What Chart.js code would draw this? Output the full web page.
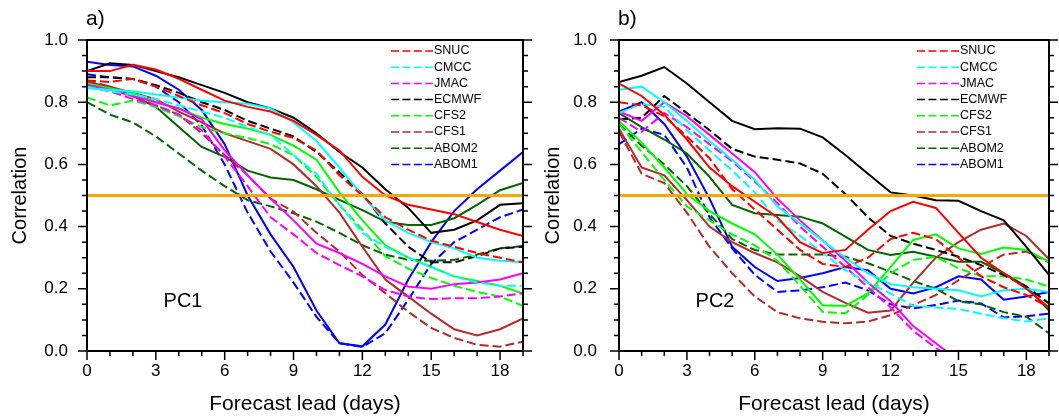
<!DOCTYPE html>
<html>
<head>
<meta charset="utf-8">
<script src="https://cdn.jsdelivr.net/npm/chart.js@4.4.0/dist/chart.umd.min.js"></script>
<style>
  body { margin: 0; background: #fff; }
  #wrap { position: relative; width: 1059px; height: 419px; }
  canvas { position: absolute; top: 0; }
  #pc1 { left: 0; }
  #pc2 { left: 540px; }
</style>
</head>
<body>
<div id="wrap">
  <canvas id="pc1" width="540" height="419"></canvas>
  <canvas id="pc2" width="519" height="419"></canvas>
</div>
<script>
// forecast lead in days
const days = [0,1,2,3,4,5,6,7,8,9,10,11,12,13,14,15,16,17,18,19];
const models = ['SNUC','CMCC','JMAC','ECMWF','CFS2','CFS1','ABOM2','ABOM1'];
const REF_LEVEL = 0.5;

// PC1 - solid lines
const pc1SnucSolid  = [0.90,0.90,0.92,0.905,0.875,0.84,0.805,0.785,0.77,0.74,0.695,0.645,0.56,0.50,0.47,0.455,0.44,0.415,0.39,0.37];
const pc1CmccSolid  = [0.845,0.84,0.835,0.825,0.815,0.805,0.80,0.795,0.78,0.735,0.675,0.59,0.50,0.42,0.38,0.35,0.33,0.30,0.29,0.285];
const pc1JmacSolid  = [0.855,0.84,0.82,0.80,0.78,0.745,0.645,0.565,0.49,0.42,0.345,0.315,0.28,0.24,0.207,0.20,0.215,0.22,0.23,0.25];
const pc1EcmwfSolid = [0.90,0.925,0.92,0.90,0.88,0.855,0.83,0.80,0.78,0.75,0.70,0.64,0.59,0.52,0.46,0.38,0.39,0.42,0.47,0.475];
const pc1Cfs2Solid  = [0.86,0.845,0.83,0.80,0.78,0.75,0.73,0.715,0.695,0.66,0.615,0.51,0.42,0.34,0.30,0.27,0.24,0.225,0.21,0.185];
const pc1Cfs1Solid  = [0.865,0.85,0.83,0.81,0.77,0.735,0.70,0.675,0.65,0.60,0.53,0.445,0.335,0.23,0.175,0.12,0.07,0.05,0.07,0.105];
const pc1Abom2Solid = [0.86,0.85,0.82,0.785,0.72,0.656,0.624,0.58,0.558,0.55,0.52,0.486,0.453,0.416,0.405,0.405,0.427,0.47,0.517,0.54];
const pc1Abom1Solid = [0.93,0.92,0.915,0.885,0.84,0.775,0.665,0.50,0.375,0.27,0.13,0.025,0.015,0.085,0.23,0.35,0.45,0.52,0.58,0.64];

// PC1 - dashed lines
const pc1SnucDash  = [0.87,0.865,0.875,0.85,0.82,0.79,0.765,0.73,0.705,0.685,0.645,0.565,0.50,0.43,0.39,0.355,0.335,0.315,0.30,0.285];
const pc1CmccDash  = [0.85,0.835,0.825,0.81,0.79,0.77,0.75,0.72,0.695,0.63,0.57,0.47,0.38,0.335,0.30,0.27,0.24,0.22,0.21,0.21];
const pc1JmacDash  = [0.85,0.835,0.81,0.79,0.76,0.71,0.625,0.53,0.43,0.375,0.315,0.276,0.24,0.196,0.175,0.167,0.17,0.17,0.175,0.186];
const pc1EcmwfDash = [0.88,0.88,0.875,0.855,0.83,0.80,0.775,0.74,0.715,0.69,0.64,0.575,0.505,0.41,0.335,0.285,0.285,0.305,0.33,0.335];
const pc1Cfs2Dash  = [0.815,0.79,0.805,0.785,0.755,0.72,0.70,0.685,0.665,0.63,0.56,0.47,0.39,0.305,0.265,0.235,0.21,0.19,0.175,0.145];
const pc1Cfs1Dash  = [0.87,0.85,0.82,0.79,0.76,0.70,0.63,0.565,0.49,0.448,0.38,0.32,0.244,0.186,0.126,0.074,0.042,0.02,0.014,0.03];
const pc1Abom2Dash = [0.80,0.76,0.735,0.69,0.635,0.58,0.53,0.485,0.465,0.443,0.416,0.38,0.34,0.31,0.293,0.29,0.293,0.31,0.33,0.338];
const pc1Abom1Dash = [0.89,0.88,0.875,0.85,0.80,0.725,0.60,0.445,0.32,0.22,0.11,0.025,0.013,0.057,0.165,0.28,0.35,0.39,0.43,0.455];

// PC2 - solid lines
const pc2SnucSolid  = [0.86,0.82,0.76,0.68,0.59,0.53,0.48,0.43,0.35,0.315,0.325,0.39,0.45,0.48,0.46,0.38,0.30,0.25,0.20,0.14];
const pc2CmccSolid  = [0.84,0.85,0.80,0.74,0.675,0.615,0.55,0.465,0.41,0.355,0.30,0.25,0.215,0.205,0.20,0.195,0.175,0.195,0.20,0.19];
const pc2JmacSolid  = [0.77,0.74,0.80,0.755,0.695,0.635,0.575,0.49,0.42,0.355,0.29,0.22,0.16,0.08,0.025,-0.03,null,null,null,null];
const pc2EcmwfSolid = [0.865,0.885,0.913,0.86,0.80,0.74,0.713,0.716,0.715,0.687,0.63,0.57,0.51,0.50,0.485,0.483,0.45,0.42,0.335,0.245];
const pc2Cfs2Solid  = [0.74,0.67,0.59,0.505,0.45,0.41,0.375,0.31,0.23,0.147,0.145,0.185,0.27,0.357,0.375,0.33,0.312,0.333,0.325,0.287];
const pc2Cfs1Solid  = [0.715,0.59,0.565,0.485,0.40,0.35,0.315,0.285,0.24,0.19,0.155,0.123,0.13,0.22,0.30,0.35,0.39,0.41,0.37,0.295];
const pc2Abom2Solid = [0.765,0.72,0.68,0.635,0.56,0.47,0.443,0.437,0.432,0.41,0.368,0.325,0.309,0.319,0.303,0.287,0.287,0.25,0.207,0.13];
const pc2Abom1Solid = [0.77,0.80,0.73,0.625,0.49,0.335,0.27,0.225,0.235,0.25,0.27,0.26,0.20,0.185,0.205,0.24,0.23,0.165,0.175,0.19];

// PC2 - dashed lines
const pc2SnucDash  = [0.80,0.79,0.755,0.69,0.62,0.52,0.455,0.39,0.325,0.28,0.27,0.30,0.36,0.38,0.36,0.30,0.24,0.205,0.18,0.14];
const pc2CmccDash  = [0.765,0.795,0.785,0.71,0.645,0.58,0.51,0.42,0.37,0.315,0.26,0.22,0.185,0.145,0.14,0.135,0.12,0.105,0.095,0.105];
const pc2JmacDash  = [0.75,0.705,0.765,0.72,0.665,0.61,0.545,0.475,0.40,0.335,0.27,0.205,0.14,0.065,0.01,-0.04,null,null,null,null];
const pc2EcmwfDash = [0.745,0.75,0.82,0.765,0.71,0.65,0.625,0.615,0.603,0.57,0.505,0.43,0.37,0.345,0.325,0.303,0.276,0.244,0.207,0.153];
const pc2Cfs2Dash  = [0.73,0.64,0.55,0.465,0.42,0.375,0.34,0.29,0.21,0.126,0.121,0.18,0.25,0.293,0.303,0.266,0.24,0.24,0.23,0.207];
const pc2Cfs1Dash  = [0.705,0.57,0.54,0.445,0.335,0.25,0.175,0.125,0.105,0.094,0.089,0.095,0.115,0.148,0.18,0.228,0.27,0.31,0.32,0.285];
const pc2Abom2Dash = [0.73,0.66,0.60,0.53,0.44,0.36,0.325,0.31,0.31,0.31,0.303,0.282,0.255,0.225,0.20,0.16,0.15,0.125,0.11,0.057];
const pc2Abom1Dash = [0.665,0.715,0.695,0.59,0.43,0.33,0.245,0.19,0.195,0.205,0.22,0.195,0.15,0.137,0.148,0.162,0.153,0.108,0.112,0.12];

// line colours, same order as models
const modelColors = ['#ff0000','#00ffff','#ff00ff','#000000','#00ff00','#b22a2a','#006400','#0000ff'];
const FONT = "'Liberation Sans', Arial, Helvetica, sans-serif";
Chart.defaults.font.family = FONT;
Chart.defaults.color = '#000';

function makeDatasets(solid, dashed) {
  const sets = [];
  models.forEach((m, i) => {
    sets.push({ label: m + ' solid', data: solid[i], borderColor: modelColors[i], borderWidth: 2, pointRadius: 0, fill: false });
    sets.push({ label: m, data: dashed[i], borderColor: modelColors[i], borderWidth: 2, borderDash: [9, 4], pointRadius: 0, fill: false });
  });
  return sets;
}

// frame, tick marks, reference line, legend and panel labels
const panelDecor = {
  id: 'panelDecor',
  afterDatasetsDraw(chart) {
    const { ctx, chartArea } = chart;
    const y = chart.scales.y.getPixelForValue(REF_LEVEL);
    ctx.save();
    ctx.strokeStyle = '#ffa500';
    ctx.lineWidth = 3;
    ctx.beginPath();
    ctx.moveTo(chartArea.left, y);
    ctx.lineTo(chartArea.right, y);
    ctx.stroke();
    ctx.restore();
  },
  afterDraw(chart, args, opts) {
    const { ctx } = chart;
    const { left, right, top, bottom } = chart.chartArea;
    const xs = chart.scales.x, ys = chart.scales.y;
    ctx.save();
    ctx.strokeStyle = '#000';
    ctx.lineWidth = 2;
    ctx.strokeRect(left, top, right - left, bottom - top);

    ctx.lineWidth = 1.5;
    ctx.beginPath();
    for (let d = 0; d <= 19; d++) {
      const px = xs.getPixelForValue(d);
      const len = d % 3 === 0 ? 9 : 5;
      ctx.moveTo(px, bottom);
      ctx.lineTo(px, bottom + len);
    }
    for (let i = 0; i <= 20; i++) {
      const py = ys.getPixelForValue(i * 0.05);
      const len = i % 4 === 0 ? 9 : 5;
      ctx.moveTo(left - len, py);
      ctx.lineTo(left, py);
      ctx.moveTo(right, py);
      ctx.lineTo(right + len, py);
    }
    ctx.stroke();

    // legend
    const lx = right - 132;
    ctx.font = '12.5px ' + FONT;
    ctx.textBaseline = 'middle';
    ctx.textAlign = 'left';
    models.forEach((m, i) => {
      const y = top + 11 + i * 16.2;
      ctx.strokeStyle = modelColors[i];
      ctx.lineWidth = 1.5;
      ctx.setLineDash([8, 3.4]);
      ctx.beginPath();
      ctx.moveTo(lx, y);
      ctx.lineTo(lx + 42, y);
      ctx.stroke();
      ctx.setLineDash([]);
      ctx.fillStyle = '#000';
      ctx.fillText(m, lx + 43, y);
    });

    ctx.font = '21px ' + FONT;
    ctx.textBaseline = 'middle';
    ctx.fillText(opts.letter, left - 1, 19);
    ctx.textAlign = 'center';
    ctx.font = '20px ' + FONT;
    ctx.fillText(opts.tag, left + 96, 301);
    ctx.restore();
  }
};

function makeChart(id, solid, dashed, opts) {
  return new Chart(document.getElementById(id), {
    type: 'line',
    data: { labels: days, datasets: makeDatasets(solid, dashed) },
    plugins: [panelDecor],
    options: {
      responsive: false,
      animation: false,
      devicePixelRatio: 1,
      layout: { padding: { top: 40, right: opts.padRight, left: 0, bottom: 0 } },
      elements: { line: { tension: 0 } },
      plugins: {
        legend: { display: false },
        tooltip: { enabled: false },
        panelDecor: { letter: opts.letter, tag: opts.tag }
      },
      scales: {
        x: {
          type: 'linear', min: 0, max: 19,
          grid: { display: false, drawTicks: false },
          border: { display: false },
          ticks: {
            stepSize: 1, autoSkip: false, maxRotation: 0, padding: 10,
            font: { size: 17 },
            callback: v => (v % 3 === 0 ? String(v) : '')
          },
          title: { display: true, text: 'Forecast lead (days)', font: { size: 21 }, padding: { top: 2, bottom: 2 } },
          afterFit: s => { s.height = 68; }
        },
        y: {
          min: 0, max: 1,
          grid: { display: false, drawTicks: false },
          border: { display: false },
          ticks: { stepSize: 0.2, padding: opts.tickPad, font: { size: 17 }, callback: v => v.toFixed(1) },
          title: { display: true, text: 'Correlation', font: { size: 20 }, padding: { top: opts.titlePad, bottom: 0 } },
          afterFit: s => { s.width = opts.axisWidth; }
        }
      }
    }
  });
}

makeChart('pc1',
  [pc1SnucSolid, pc1CmccSolid, pc1JmacSolid, pc1EcmwfSolid, pc1Cfs2Solid, pc1Cfs1Solid, pc1Abom2Solid, pc1Abom1Solid],
  [pc1SnucDash, pc1CmccDash, pc1JmacDash, pc1EcmwfDash, pc1Cfs2Dash, pc1Cfs1Dash, pc1Abom2Dash, pc1Abom1Dash],
  { letter: 'a)', tag: 'PC1', padRight: 17, axisWidth: 87, tickPad: 19, titlePad: 8 });

makeChart('pc2',
  [pc2SnucSolid, pc2CmccSolid, pc2JmacSolid, pc2EcmwfSolid, pc2Cfs2Solid, pc2Cfs1Solid, pc2Abom2Solid, pc2Abom1Solid],
  [pc2SnucDash, pc2CmccDash, pc2JmacDash, pc2EcmwfDash, pc2Cfs2Dash, pc2Cfs1Dash, pc2Abom2Dash, pc2Abom1Dash],
  { letter: 'b)', tag: 'PC2', padRight: 5, axisWidth: 79, tickPad: 22, titlePad: 1 });
</script>
</body>
</html>
